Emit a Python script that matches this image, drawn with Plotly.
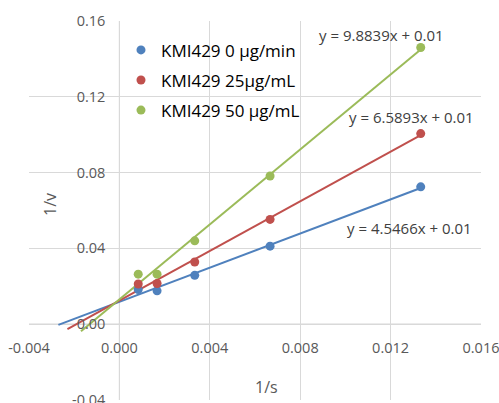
import numpy as np
import plotly.graph_objects as go

# ---- data ----
inv_s = [1/1200, 1/600, 1/300, 1/150, 1/75]
series_names = ["KMI429 0 µg/min", "KMI429 25µg/mL", "KMI429 50 µg/mL"]
inv_v_0 = [0.0183, 0.0176, 0.0258, 0.0412, 0.0725]
inv_v_25 = [0.0212, 0.0215, 0.0328, 0.0553, 0.1006]
inv_v_50 = [0.0264, 0.0264, 0.0440, 0.0782, 0.1460]
trend_start = [-0.0027, -0.0023, -0.0017]   # backward forecast extent of trendlines
equations = ["y = 4.5466x + 0.01", "y = 6.5893x + 0.01", "y = 9.8839x + 0.01"]

x_tick_vals = [-0.004, 0.000, 0.004, 0.008, 0.012, 0.016]
x_tick_text = ["-0.004", "0.000", "0.004", "0.008", "0.012", "0.016"]
y_tick_vals = [-0.04, 0.00, 0.04, 0.08, 0.12, 0.16]
y_tick_text = ["-0.04", "0.00", "0.04", "0.08", "0.12", "0.16"]

colors = ["#4F81BD", "#C0504D", "#9BBB59"]
all_series = [inv_v_0, inv_v_25, inv_v_50]

fig = go.Figure()

# trendlines (linear fit)
for vals, col, xs0 in zip(all_series, colors, trend_start):
    m, b = np.polyfit(inv_s, vals, 1)
    xl = np.array([xs0, max(inv_s)])
    fig.add_trace(go.Scatter(x=xl, y=m * xl + b, mode="lines",
                             line=dict(color=col, width=2),
                             showlegend=False, hoverinfo="skip"))

for i, (vals, col, name) in enumerate(zip(all_series, colors, series_names)):
    fig.add_trace(go.Scatter(x=inv_s, y=vals, mode="markers", name=name,
                             legendgroup=f"g{i}",
                             marker=dict(color=col, size=9)))

FONT = "Open Sans"

# equation labels
eq_pos = [(0.01284, 0.0507), (0.01293, 0.1095), (0.01158, 0.1527)]
for txt, (ex, ey) in zip(equations, eq_pos):
    fig.add_annotation(x=ex, y=ey, text=txt, showarrow=False,
                       xanchor="center", yanchor="middle",
                       font=dict(family=FONT, size=15, color="#404040"))

# axis titles
fig.add_annotation(xref="paper", yref="paper", x=0.0465, y=0.5145, text="1/v",
                   textangle=-90, showarrow=False, xanchor="center", yanchor="middle",
                   font=dict(family=FONT, size=16, color="#595959"))
fig.add_annotation(xref="paper", yref="paper", x=0.5265, y=0.0343, text="1/s",
                   showarrow=False, xanchor="center", yanchor="middle",
                   font=dict(family=FONT, size=16, color="#595959"))

tickfont = dict(family=FONT, size=14.5, color="#595959")
fig.update_layout(
    width=499, height=403, autosize=False,
    margin=dict(l=29, r=18, t=21, b=3, autoexpand=False),
    paper_bgcolor="white", plot_bgcolor="white",
    xaxis=dict(range=[-0.004, 0.016], tickvals=x_tick_vals, ticktext=x_tick_text,
               showgrid=True, gridcolor="#D9D9D9", gridwidth=1,
               zeroline=False, showline=False, automargin=False,
               anchor="free", position=0.2, ticks="", ticklabelstandoff=13,
               ticklabeloverflow="allow", tickfont=tickfont),
    yaxis=dict(range=[-0.04, 0.16], tickvals=y_tick_vals, ticktext=y_tick_text,
               showgrid=True, gridcolor="#D9D9D9", gridwidth=1,
               zeroline=False, showline=False, automargin=False,
               anchor="free", position=0.2, ticks="", ticklabelstandoff=14,
               ticklabeloverflow="allow", tickfont=tickfont),
    legend=dict(x=0.2035, y=0.97, xanchor="left", yanchor="top",
                bgcolor="rgba(0,0,0,0)", tracegroupgap=5,
                font=dict(family="Open Sans", size=17, color="#000000")),
    showlegend=True,
)

# zero lines (axis lines through origin)
fig.add_hline(y=0, line=dict(color="#BFBFBF", width=1), layer="below")
fig.add_vline(x=0, line=dict(color="#BFBFBF", width=1), layer="below")

fig.write_html("out.html", config={"responsive": False, "displayModeBar": False},
               post_script="document.body.style.margin='0';document.body.style.overflow='hidden';")
